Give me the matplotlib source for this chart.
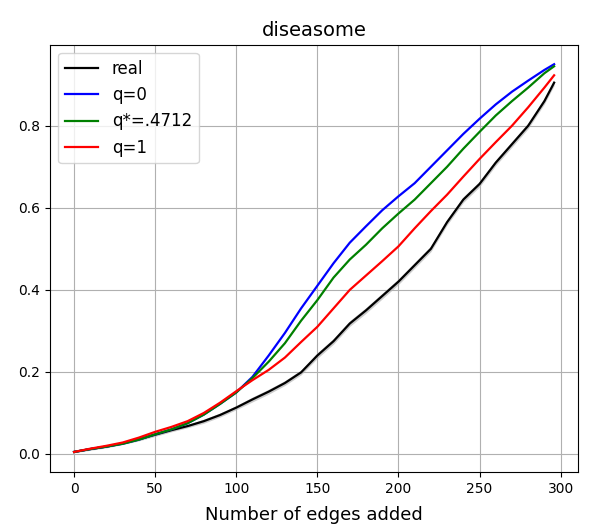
import numpy as np
import matplotlib.pyplot as plt

edges = [0, 10, 20, 30, 40, 50, 60, 70, 80, 90, 100, 110, 120, 130, 140, 150,
         160, 170, 180, 190, 200, 210, 220, 230, 240, 250, 260, 270, 280, 290, 296]

real = [0.005, 0.012, 0.018, 0.026, 0.036, 0.047, 0.058, 0.068, 0.080, 0.095,
        0.113, 0.133, 0.152, 0.173, 0.199, 0.240, 0.275, 0.318, 0.350, 0.385,
        0.420, 0.460, 0.500, 0.565, 0.620, 0.658, 0.710, 0.755, 0.800, 0.860, 0.905]
real_err = [0.002, 0.003, 0.003, 0.003, 0.004, 0.004, 0.004, 0.004, 0.005, 0.005,
            0.005, 0.006, 0.006, 0.006, 0.006, 0.007, 0.007, 0.007, 0.007, 0.007,
            0.007, 0.007, 0.007, 0.007, 0.007, 0.007, 0.007, 0.007, 0.007, 0.007, 0.007]

q0 = [0.005, 0.012, 0.018, 0.025, 0.035, 0.048, 0.060, 0.075, 0.096, 0.122,
      0.150, 0.188, 0.240, 0.295, 0.355, 0.410, 0.465, 0.515, 0.555, 0.594,
      0.628, 0.660, 0.700, 0.740, 0.780, 0.817, 0.852, 0.883, 0.910, 0.936, 0.950]

qstar = [0.005, 0.012, 0.018, 0.025, 0.035, 0.048, 0.060, 0.075, 0.096, 0.122,
         0.150, 0.185, 0.225, 0.270, 0.325, 0.375, 0.430, 0.474, 0.510, 0.550,
         0.586, 0.620, 0.660, 0.700, 0.744, 0.785, 0.825, 0.860, 0.893, 0.928, 0.945]

q1 = [0.005, 0.013, 0.020, 0.028, 0.040, 0.054, 0.066, 0.080, 0.100, 0.125,
      0.153, 0.180, 0.205, 0.235, 0.273, 0.310, 0.355, 0.400, 0.435, 0.470,
      0.506, 0.550, 0.592, 0.632, 0.676, 0.719, 0.760, 0.800, 0.845, 0.893, 0.923]

x = np.array(edges)
r = np.array(real)
e = np.array(real_err)

fig = plt.figure(figsize=(5.96, 5.27), dpi=100)
ax = fig.add_axes([0.084, 0.104, 0.886, 0.811])

ax.fill_between(x, r - e, r + e, color='gray', alpha=0.4, linewidth=0)
ax.plot(x, r, color='black', linewidth=1.6, label='real')
ax.plot(x, q0, color='blue', linewidth=1.6, label='q=0')
ax.plot(x, qstar, color='green', linewidth=1.6, label='q*=.4712')
ax.plot(x, q1, color='red', linewidth=1.6, label='q=1')

ax.set_title('diseasome', fontsize=14)
ax.set_xlabel('Number of edges added', fontsize=13, labelpad=7)
ax.set_xticks([0, 50, 100, 150, 200, 250, 300])
ax.set_yticks([0.0, 0.2, 0.4, 0.6, 0.8])
ax.grid(True)
ax.legend(loc='upper left', fontsize=12)

fig.savefig('out.png', dpi=100)
